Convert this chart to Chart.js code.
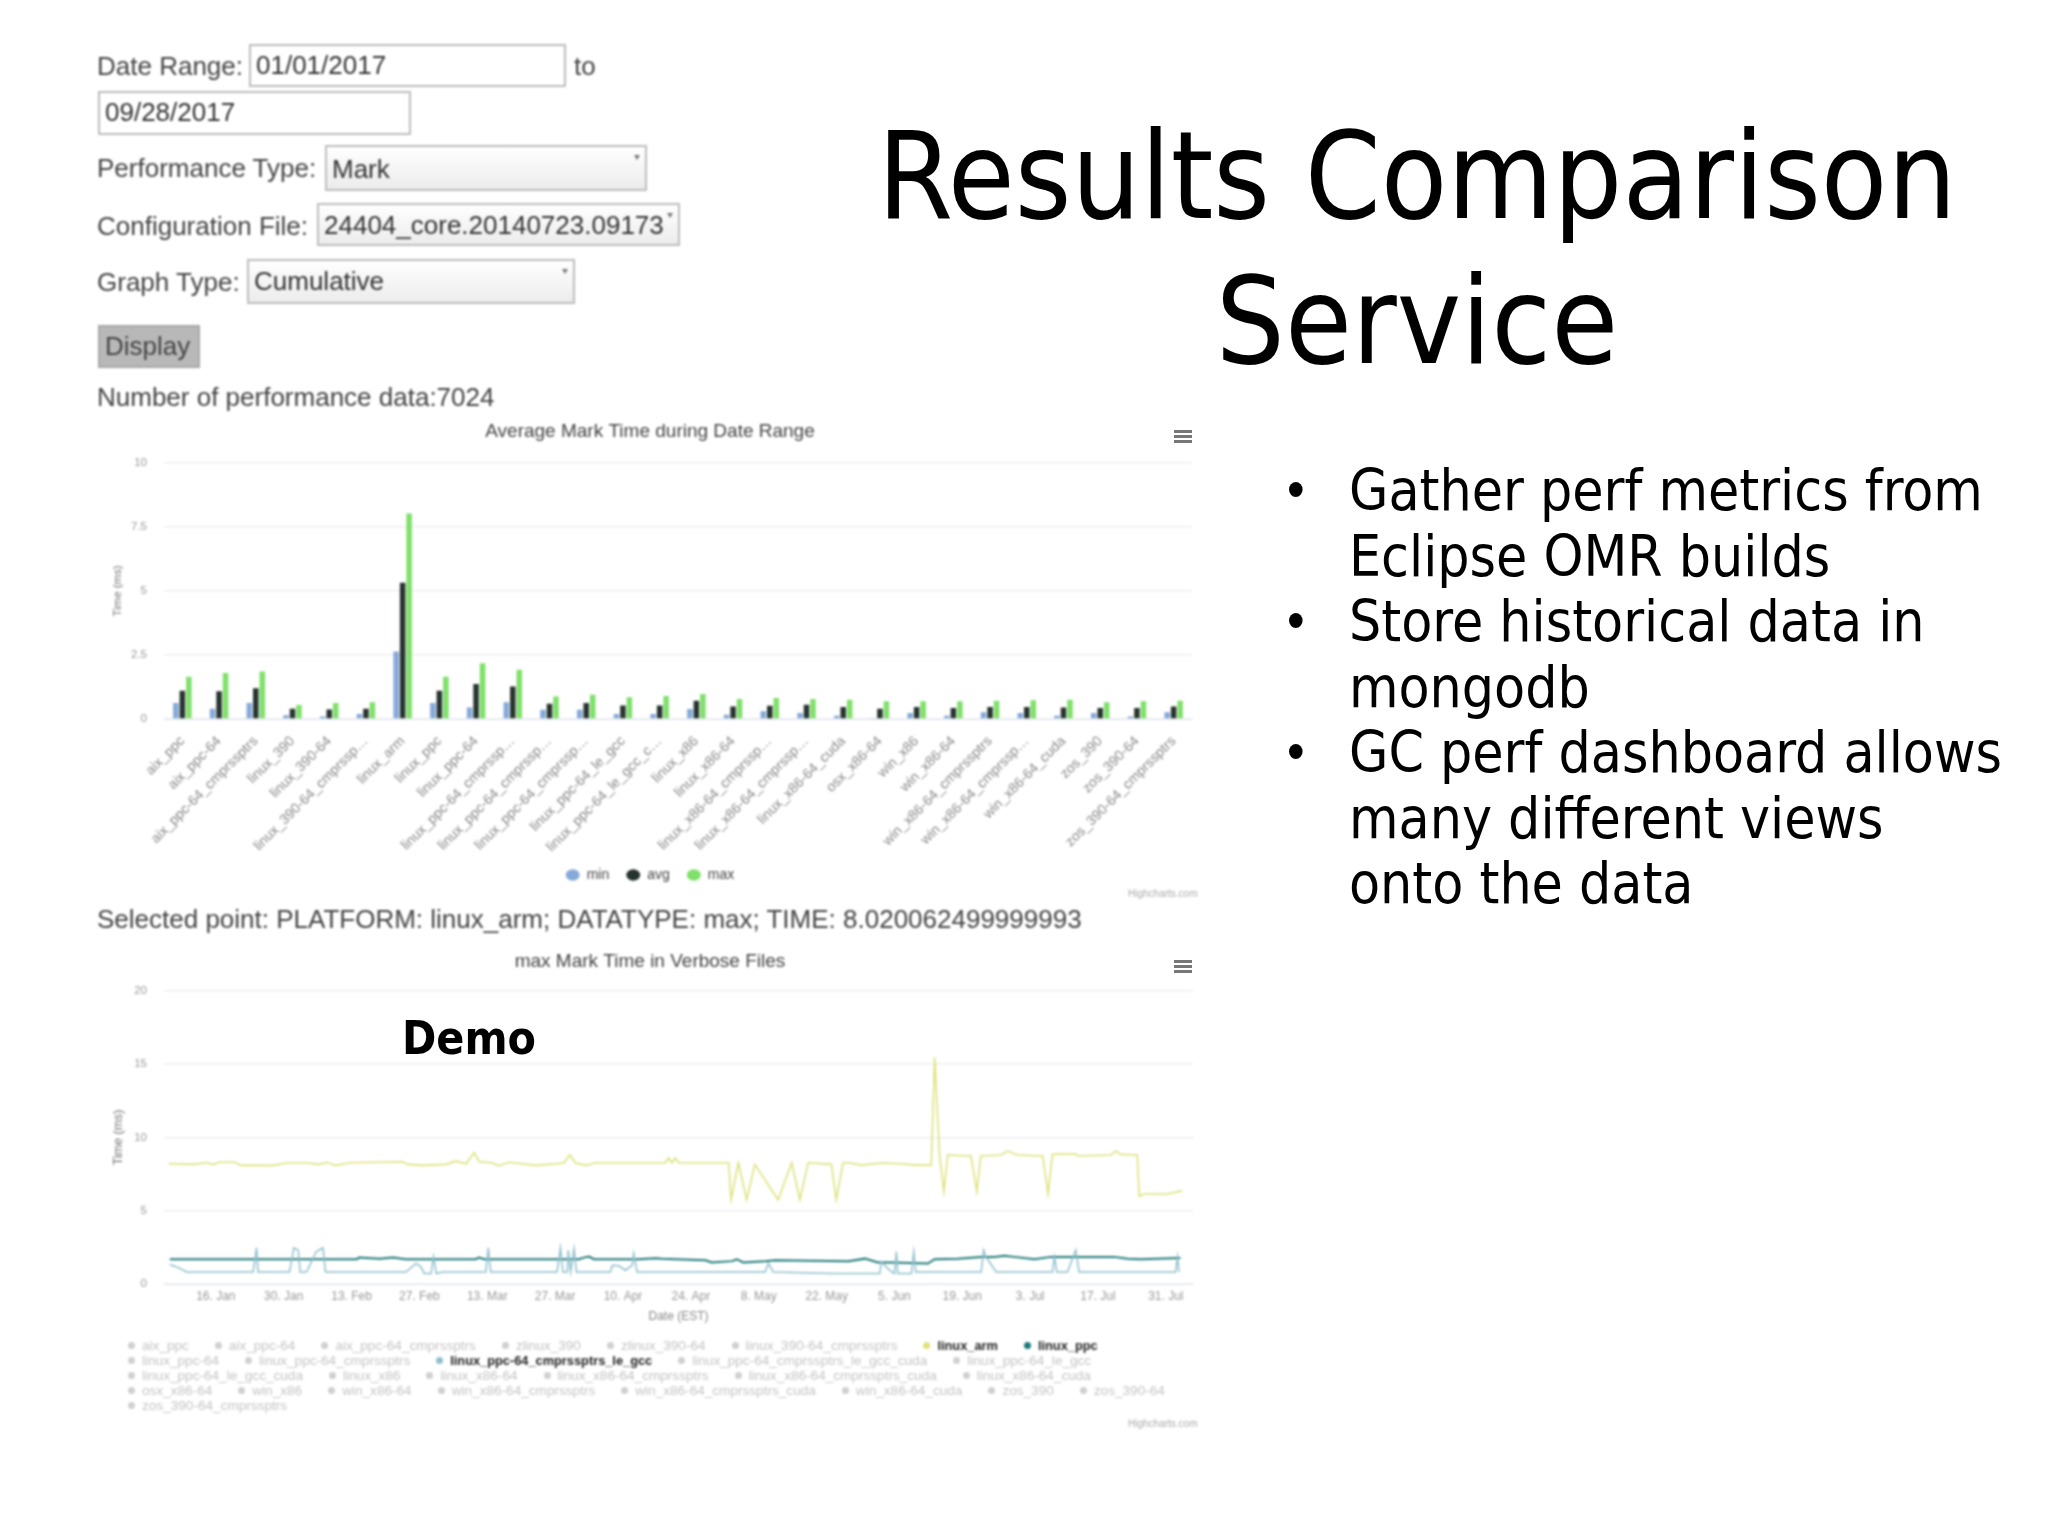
<!DOCTYPE html>
<html><head><meta charset="utf-8">
<script src="https://cdn.jsdelivr.net/npm/chart.js@4"></script>
<style>
html,body{margin:0;padding:0;background:#fff;width:2048px;height:1536px;overflow:hidden}
.a{position:absolute;white-space:nowrap}
.slide{font-family:"DejaVu Sans Condensed","DejaVu Sans";font-stretch:condensed;color:#000}
.title{font-size:121px;line-height:145px;width:1180px;left:827px;text-align:center}
.bl{font-size:56.5px;line-height:66px;left:1349px}
.dot{font-size:52px;line-height:66px;left:1282px}
#form{position:absolute;left:0;top:0;width:1300px;height:960px;filter:blur(.8px);font-family:"Liberation Sans";font-size:26px;color:#444}
.box{position:absolute;box-sizing:border-box;border:2px solid #bdbdbd;background:#fff;color:#333;padding-left:5px;font-size:26px;white-space:nowrap}
.sel{background:linear-gradient(#fff,#ececec)}
.sel:after{content:"";position:absolute;right:5px;top:8px;border:3.5px solid transparent;border-top:5px solid #777}
.wrap{position:absolute;left:100px;width:1100px;filter:blur(.9px)}
.burger{position:absolute;width:18px;height:13px;background:repeating-linear-gradient(#777 0,#777 3px,#fff 3px,#fff 5px);filter:blur(.6px)}
.cred{position:absolute;font:10px "Liberation Sans";color:#aaa;filter:blur(.8px)}
#leg{position:absolute;left:128px;top:1338px;font:13.6px "Liberation Sans";color:#c4c4c4;filter:blur(1px)}
#leg .r{height:15px;line-height:15px;white-space:nowrap;display:flex;gap:26px}
#leg i{display:inline-block;width:7px;height:7px;border-radius:50%;margin-right:7px;background:#d0d0d0;vertical-align:1px}
#leg .on{color:#222;font-weight:bold;font-size:12.8px}
</style></head><body>
<div class="a slide title" style="top:104px">Results Comparison</div>
<div class="a slide title" style="top:249px">Service</div>
<div id="bullets"></div>

<div id="form">
<div class="a" style="left:97px;top:51px">Date Range:</div>
<div class="box" style="left:249px;top:44px;width:317px;height:43px;line-height:39px">01/01/2017</div>
<div class="a" style="left:574px;top:51px">to</div>
<div class="box" style="left:98px;top:91px;width:313px;height:44px;line-height:39px">09/28/2017</div>
<div class="a" style="left:97px;top:153px">Performance Type:</div>
<div class="box sel" style="left:325px;top:145px;width:322px;height:46px;line-height:44px">Mark</div>
<div class="a" style="left:97px;top:211px">Configuration File:</div>
<div class="box sel" style="left:317px;top:203px;width:363px;height:43px;line-height:40px">24404_core.20140723.09173</div>
<div class="a" style="left:97px;top:267px">Graph Type:</div>
<div class="box sel" style="left:247px;top:259px;width:328px;height:45px;line-height:41px">Cumulative</div>
<div class="box" style="left:98px;top:325px;width:102px;height:43px;line-height:38px;background:#b8b8b8;color:#444;border-color:#a8a8a8">Display</div>
<div class="a" style="left:97px;top:382px">Number of performance data:7024</div>
<div class="a" style="left:97px;top:904px">Selected point: PLATFORM: linux_arm; DATATYPE: max; TIME: 8.020062499999993</div>
</div>

<div class="wrap" style="top:420px;height:472px"><canvas id="c1" width="1100" height="472"></canvas></div>
<div class="wrap" style="top:950px;height:374px"><canvas id="c2" width="1100" height="374"></canvas></div>
<div class="burger" style="left:1174px;top:430px"></div>
<div class="burger" style="left:1174px;top:960px"></div>
<div class="cred" style="left:1128px;top:888px">Highcharts.com</div>
<div class="cred" style="left:1128px;top:1418px">Highcharts.com</div>
<div id="leg"></div>
<div class="a slide" style="left:402px;top:1007px;font-size:46px;font-weight:bold;line-height:62px">Demo</div>

<script>
const platforms=["aix_ppc","aix_ppc-64","aix_ppc-64_cmprssptrs","linux_390","linux_390-64","linux_390-64_cmprssp…","linux_arm","linux_ppc","linux_ppc-64","linux_ppc-64_cmprssp…","linux_ppc-64_cmprssp…","linux_ppc-64_cmprssp…","linux_ppc-64_le_gcc","linux_ppc-64_le_gcc_c…","linux_x86","linux_x86-64","linux_x86-64_cmprssp…","linux_x86-64_cmprssp…","linux_x86-64_cuda","osx_x86-64","win_x86","win_x86-64","win_x86-64_cmprssptrs","win_x86-64_cmprssp…","win_x86-64_cuda","zos_390","zos_390-64","zos_390-64_cmprssptrs"];
const minTime=[.62,.4,.62,.15,.1,.2,2.63,.62,.45,.65,.36,.36,.2,.2,.39,.17,.3,.23,.13,.04,.23,.13,.26,.23,.13,.23,.1,.26];
const avgTime=[1.1,1.08,1.2,.4,.37,.4,5.32,1.1,1.37,1.27,.6,.62,.53,.53,.71,.49,.52,.56,.47,.4,.47,.43,.47,.47,.45,.43,.43,.49];
const maxTime=[1.65,1.8,1.85,.55,.62,.65,8.02,1.65,2.18,1.92,.88,.95,.85,.9,.98,.78,.82,.78,.75,.69,.69,.69,.71,.73,.75,.65,.69,.71];
const yTicks1=[0,2.5,5,7.5,10];

const dateTickDays=[16,30,44,58,72,86,100,114,128,142,156,170,184,198,212];
const dateTickLabels=["16. Jan","30. Jan","13. Feb","27. Feb","13. Mar","27. Mar","10. Apr","24. Apr","8. May","22. May","5. Jun","19. Jun","3. Jul","17. Jul","31. Jul"];
const armDays=[6.2,11.3,14.1,15.4,16.8,19.9,21.3,27.8,30.5,34.7,37.4,38.8,40.8,43.6,54.5,55.6,58.7,63.5,65.5,67.6,69.3,70.3,73,74.4,76.5,82,86.1,87.8,89,90.2,92.3,94.3,108.7,109.4,110.1,110.8,111.5,121.8,122.3,123.8,125.5,127.2,132,134.8,136.5,138.2,143,144,145.4,146.5,149.2,153.3,157.4,160.2,163.6,164.3,165.3,166.2,167,171.8,173,173.8,178,179.3,181.4,186.6,187.7,188.6,193.4,193.8,200.6,201.7,202.7,206.1,206.5,207.5,212.3,215.4];
const armTime=[8.2,8.16,8.27,8.16,8.3,8.3,8.09,8.09,8.25,8.25,8.16,8.3,8.09,8.27,8.34,8.16,8.09,8.16,8.38,8.2,8.96,8.34,8.27,8.07,8.3,8.09,8.2,8.25,8.8,8.25,8.09,8.27,8.27,8.6,8.27,8.6,8.27,8.27,5.75,8.27,5.75,8.16,5.75,8.27,5.75,8.27,8.16,5.75,8.27,8.27,8.11,8.25,8.2,8.11,8.11,15.46,8.84,6.3,8.8,8.73,6.3,8.73,8.8,9.07,8.8,8.73,6.14,8.84,8.88,8.73,8.8,9.07,8.84,8.8,5.98,6.14,6.14,6.37];
const ppcDays=[6.5,45,45.6,49.8,52.5,55.2,69.6,70.3,71.4,90.9,91.9,93,94,103.2,106.7,108,117,118.3,122.5,123.5,124.8,129.3,131.4,146.5,149.9,152.6,155.4,162.9,164.3,169.1,173.9,176.6,178.7,180.7,184.9,188.3,193.1,195.8,201.3,204.1,206.8,215];
const ppcTime=[1.69,1.69,1.8,1.73,1.8,1.69,1.69,1.8,1.69,1.69,1.8,1.87,1.69,1.69,1.76,1.73,1.62,1.47,1.56,1.69,1.47,1.56,1.62,1.56,1.73,1.47,1.47,1.4,1.69,1.73,1.85,1.85,1.92,1.85,1.69,1.85,1.85,1.85,1.85,1.73,1.69,1.78];
const leDays=[6.5,7.9,10,23.7,24.4,24.7,31.2,32.1,33,33.4,34.7,36.7,38.1,38.6,55.2,57.3,58.3,59,60.4,60.9,61.5,62.8,71.7,72.2,72.7,86.4,87.1,87.6,88.5,88.7,89.2,89.9,90.4,97.4,97.8,99.1,100.5,101.9,102.2,102.9,129.3,130,131,143,146.5,153,153.3,155,156,156.4,156.7,159.5,160,160.4,173.9,174.4,174.9,177,188.6,189,189.5,191.7,193.4,194.1,214,214.4,214.7];
const leTime=[1.33,1.17,.82,.82,2.47,.82,.82,2.47,2.31,.82,.82,2.2,2.47,.82,.82,1.4,1.17,.71,.71,1.85,.71,.82,.82,2.47,.82,.82,2.47,.82,.82,2.31,.82,2.4,.82,.82,1.28,1.24,.94,1.28,2.09,.82,.82,1.4,.82,.71,.71,.71,1.51,.94,.71,2.2,.71,.71,2.2,.82,.82,2.31,1.85,.82,.82,1.85,.82,.82,2.31,.82,.82,1.85,.82];
const yTicks2=[0,5,10,15,20];
const legendRows=[["aix_ppc","aix_ppc-64","aix_ppc-64_cmprssptrs","zlinux_390","zlinux_390-64","linux_390-64_cmprssptrs","linux_arm","linux_ppc"],["linux_ppc-64","linux_ppc-64_cmprssptrs","linux_ppc-64_cmprssptrs_le_gcc","linux_ppc-64_cmprssptrs_le_gcc_cuda","linux_ppc-64_le_gcc"],["linux_ppc-64_le_gcc_cuda","linux_x86","linux_x86-64","linux_x86-64_cmprssptrs","linux_x86-64_cmprssptrs_cuda","linux_x86-64_cuda"],["osx_x86-64","win_x86","win_x86-64","win_x86-64_cmprssptrs","win_x86-64_cmprssptrs_cuda","win_x86-64_cuda","zos_390","zos_390-64"],["zos_390-64_cmprssptrs"]];
const activeColors={"linux_arm":"#dde37a","linux_ppc":"#1f7a78","linux_ppc-64_cmprssptrs_le_gcc":"#8fbfcc"};
const bulletLines=["Gather perf metrics from","Eclipse OMR builds","Store historical data in","mongodb","GC perf dashboard allows","many different views","onto the data"];
const bulletStarts=[0,2,4];

// slide text
const bl=document.getElementById('bullets');
bulletLines.forEach((t,i)=>{
  const top=458+i*65.5;
  bl.insertAdjacentHTML('beforeend',`<div class="a slide bl" style="top:${top}px">${t}</div>`);
  if(bulletStarts.includes(i))bl.insertAdjacentHTML('beforeend',`<div class="a slide dot" style="top:${top}px">•</div>`);
});
// legend
const lg=document.getElementById('leg');
legendRows.forEach(r=>{
  lg.insertAdjacentHTML('beforeend','<div class="r">'+r.map(n=>{
    const c=activeColors[n];
    return `<span class="${c?'on':''}"><i style="${c?'background:'+c:''}"></i>${n}</span>`;
  }).join('')+'</div>');
});

const tickFont={family:'"Liberation Sans"',size:11.5};
const grid={color:'#eeeeee',lineWidth:1.5,drawTicks:false};
const titleFont={family:'"Liberation Sans"',size:19,weight:'normal'};
new Chart(document.getElementById('c1'),{
  type:'bar',
  data:{labels:platforms,datasets:[
    {label:'min',data:minTime,backgroundColor:'#85a9d8',categoryPercentage:.53,barPercentage:.85},
    {label:'avg',data:avgTime,backgroundColor:'#26332f',categoryPercentage:.53,barPercentage:.85},
    {label:'max',data:maxTime,backgroundColor:'#7fe06a',categoryPercentage:.53,barPercentage:.85}]},
  options:{responsive:false,animation:false,
    layout:{padding:{top:0,bottom:0}},
    plugins:{tooltip:{enabled:false},
      title:{display:true,text:'Average Mark Time during Date Range',color:'#444',font:titleFont,padding:{top:0,bottom:20}},
      legend:{position:'bottom',labels:{usePointStyle:true,pointStyle:'circle',boxWidth:8,boxHeight:8,color:'#444',font:{family:'"Liberation Sans"',size:14},padding:17,pointStyleWidth:14}}},
    scales:{
      x:{grid:{display:false},border:{color:'#dfe6f2'},
        ticks:{minRotation:45,maxRotation:45,autoSkip:false,color:'#888',font:{family:'"Liberation Sans"',size:14},padding:6},
        afterFit(s){s.height=132;s.paddingLeft=0;s.paddingRight=8}},
      y:{min:0,max:10,grid,border:{display:false},
        afterBuildTicks(s){s.ticks=yTicks1.map(v=>({value:v}))},
        ticks:{color:'#999',font:tickFont,padding:17},
        title:{display:true,text:'Time (ms)',color:'#777',font:{family:'"Liberation Sans"',size:11.5},padding:{top:11,bottom:0}},
        afterFit(s){s.width=64}}
    }}
});
const pts=(d,v)=>d.map((x,i)=>({x,y:v[i]}));
new Chart(document.getElementById('c2'),{
  type:'line',
  data:{datasets:[
    {label:'linux_arm',data:pts(armDays,armTime),borderColor:'#dde37a',borderWidth:1.6,pointRadius:0,tension:0},
    {label:'linux_ppc-64_cmprssptrs_le_gcc',data:pts(leDays,leTime),borderColor:'#8fbfcc',borderWidth:1.5,pointRadius:0,tension:0},
    {label:'linux_ppc',data:pts(ppcDays,ppcTime),borderColor:'#1f7a78',borderWidth:2,pointRadius:0,tension:0}]},
  options:{responsive:false,animation:false,
    layout:{padding:{top:0,bottom:0}},
    plugins:{tooltip:{enabled:false},legend:{display:false},
      title:{display:true,text:'max Mark Time in Verbose Files',color:'#444',font:titleFont,padding:{top:0,bottom:18}}},
    scales:{
      x:{type:'linear',min:5.3,max:217.6,grid:{display:false},border:{color:'#dfe6f2'},
        afterBuildTicks(s){s.ticks=dateTickDays.map(v=>({value:v}))},
        ticks:{maxRotation:0,autoSkip:false,color:'#999',font:{family:'"Liberation Sans"',size:12},padding:-3,
          callback(v){const i=dateTickDays.indexOf(v);return i<0?'':dateTickLabels[i]}},
        title:{display:true,text:'Date (EST)',color:'#888',font:{family:'"Liberation Sans"',size:12},padding:{top:2,bottom:0}},
        afterFit(s){s.height=40;s.paddingLeft=0;s.paddingRight=7}},
      y:{min:0,max:20,grid,border:{display:false},
        afterBuildTicks(s){s.ticks=yTicks2.map(v=>({value:v}))},
        ticks:{color:'#999',font:tickFont,padding:17},
        title:{display:true,text:'Time (ms)',color:'#777',font:{family:'"Liberation Sans"',size:12.5},padding:{top:11,bottom:0}},
        afterFit(s){s.width=64}}
    }}
});
</script>
</body></html>
